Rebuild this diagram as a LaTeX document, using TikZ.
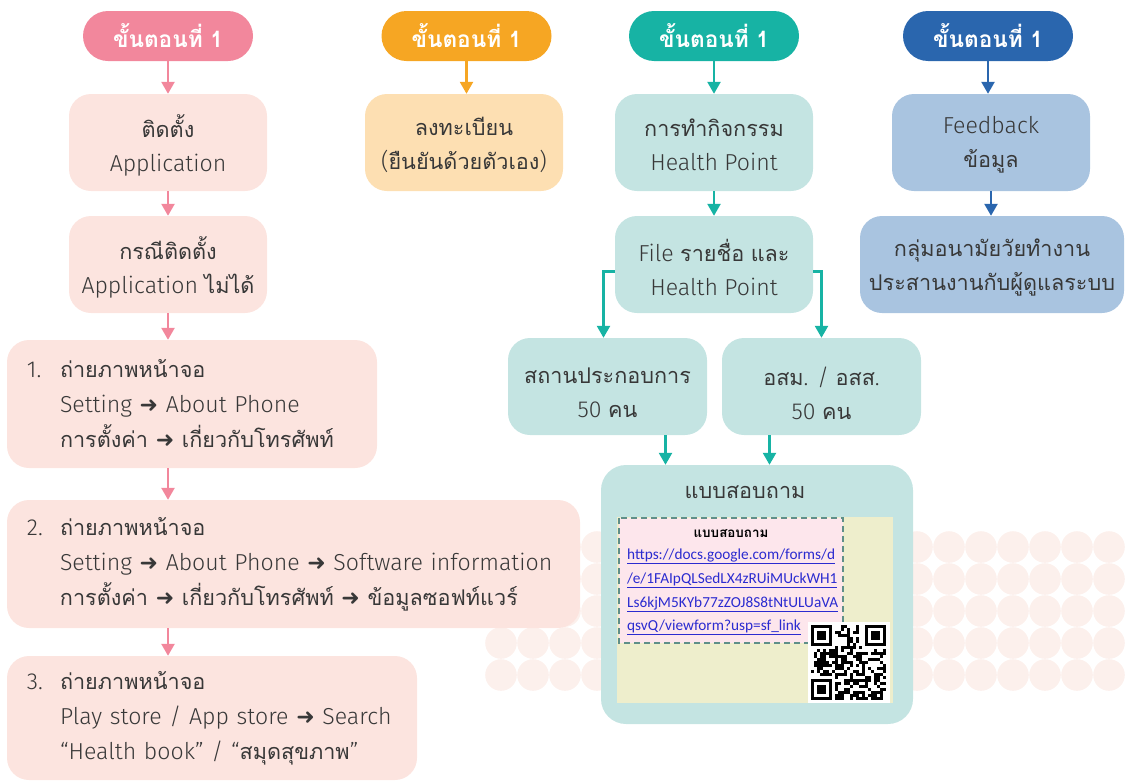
\documentclass[tikz,border=0pt]{standalone}
\usepackage{fontspec}
\IfFontExistsTF{Fira Sans Light}{\setmainfont{Fira Sans Light}[Scale=1.1]}{\setmainfont{Open Sans}}
\newfontfamily\thaifont{Loma}[Script=Thai,Scale=1.03]
\newfontfamily\dvfont{DejaVu Sans}
\newfontfamily\linkfont{Carlito}
\XeTeXinterchartokenstate=1
\newXeTeXintercharclass\thaicls
\newcount\tmpc
\tmpc="0E00
\loop\ifnum\tmpc<"0E80 \XeTeXcharclass\tmpc=\thaicls \advance\tmpc by 1 \repeat
\XeTeXinterchartoks 0 \thaicls = {\thaifont}
\XeTeXinterchartoks 4095 \thaicls = {\thaifont}
\XeTeXinterchartoks \thaicls 0 = {\rmfamily}
\XeTeXinterchartoks \thaicls 4095 = {\rmfamily}
\usetikzlibrary{arrows.meta}
\definecolor{txt}{HTML}{383838}
\definecolor{pinkH}{HTML}{F2879C}
\definecolor{pinkB}{HTML}{FCE4DF}
\definecolor{oraH}{HTML}{F6A623}
\definecolor{oraB}{HTML}{FDDFB2}
\definecolor{tealH}{HTML}{17B3A4}
\definecolor{tealB}{HTML}{C4E4E2}
\definecolor{bluH}{HTML}{2A66AE}
\definecolor{bluB}{HTML}{A9C4E0}
\definecolor{dots}{HTML}{FCF0EC}
\definecolor{yel}{HTML}{EEEECC}
\definecolor{pinkL}{HTML}{FDE6EC}
\definecolor{dashc}{HTML}{5F8F88}
\definecolor{linkc}{HTML}{2B2BD0}
\newcommand{\myarrow}{{\dvfont\fontsize{22pt}{35pt}\selectfont\char"279C}}
\newcommand{\hdrtext}{{\XeTeXinterchartokenstate=0\relax\thaifont\bfseries ขั้นตอนที่ 1}}
\tikzset{
  hdr/.style={rounded corners=25pt, minimum width=170pt, minimum height=50pt, inner sep=0pt, text=white, font={\fontsize{22pt}{26pt}\selectfont}},
  boxst/.style={rounded corners=22pt, minimum width=198pt, minimum height=97pt, inner sep=0pt},
  boxtxt/.style={inner sep=0pt, align=center, text=txt, font={\fontsize{21pt}{34pt}\selectfont}},
  lbox/.style={rounded corners=22pt, fill=pinkB, inner xsep=20pt, inner ysep=0pt, align=left, text=txt, font={\fontsize{21pt}{35pt}\selectfont}},
  ar/.style={line width=2.5pt, -{Triangle[width=13pt,length=12pt]}},
  linkst/.style={text=linkc, font={\linkfont\fontsize{15.3pt}{18pt}\selectfont}, anchor=west, inner sep=0pt}
}
% #1 name, #2 position, #3 extra style, #4 text shift, #5 text
\newcommand{\bx}[5]{\node[boxst,#3] (#1) at #2 {};
  \node[boxtxt] (#1t) at ([yshift=#4]#1.center) {#5};}
\begin{document}
\begin{tikzpicture}[x=1pt,y=-1pt]
\useasboundingbox (0,0) rectangle (1125,782);
% background dots
\foreach \c in {0,...,19}{\foreach \r in {0,...,4}{
  \fill[dots] (501+32*\c, 547+32*\r) circle (15.8);
}}
% headers
\node[hdr, fill=pinkH] (h1) at (168,36) {\hdrtext};
\node[hdr, fill=oraH]  (h2) at (466.5,36) {\hdrtext};
\node[hdr, fill=tealH] (h3) at (714,36) {\hdrtext};
\node[hdr, fill=bluH]  (h4) at (988,36) {\hdrtext};
% column 1
\bx{a1}{(168,142.5)}{fill=pinkB}{-2.5pt}{ติดตั้ง\\Application}
\bx{a2}{(168,264.5)}{fill=pinkB}{-2.5pt}{กรณีติดตั้ง\\Application ไม่ได้}
\node[lbox, text width=330pt, minimum height=128pt] (b1) at (192,404)
  {\makebox[33pt][l]{1.}ถ่ายภาพหน้าจอ\\
   \hspace*{33pt}Setting \myarrow{} About Phone\\
   \hspace*{33pt}การตั้งค่า \myarrow{} เกี่ยวกับโทรศัพท์};
\node[lbox, text width=533pt, minimum height=128pt] (b2) at (293.5,564)
  {\makebox[33pt][l]{2.}ถ่ายภาพหน้าจอ\\
   \hspace*{33pt}Setting \myarrow{} About Phone \myarrow{} Software information\\
   \hspace*{33pt}การตั้งค่า \myarrow{} เกี่ยวกับโทรศัพท์ \myarrow{} ข้อมูลซอฟท์แวร์};
\node[lbox, text width=370pt, minimum height=124pt] (b3) at (212,718)
  {\makebox[33pt][l]{3.}ถ่ายภาพหน้าจอ\\
   \hspace*{33pt}Play store / App store \myarrow{} Search\\
   \hspace*{33pt}“Health book” / “สมุดสุขภาพ”};
\draw[ar, pinkH] (h1) -- (a1);
\draw[ar, pinkH] (a1) -- (a2);
\draw[ar, pinkH] (a2.south) -- (a2.south |- b1.north);
\draw[ar, pinkH] (a2.south |- b1.south) -- (a2.south |- b2.north);
\draw[ar, pinkH] (a2.south |- b2.south) -- (a2.south |- b3.north);
% column 2
\bx{o1}{(464,142.5)}{fill=oraB}{-2.5pt}{ลงทะเบียน\\(ยืนยันด้วยตัวเอง)}
\draw[ar, oraH] (h2.south) -- (h2.south |- o1.north);
% column 3
\bx{t1}{(714,142.5)}{fill=tealB}{-2.5pt}{การทำกิจกรรม\\Health Point}
\bx{t2}{(714,264.5)}{fill=tealB}{-3pt}{File รายชื่อ และ\\Health Point}
\bx{s1}{(607.5,386.5)}{fill=tealB, minimum width=199pt}{-6.5pt}{สถานประกอบการ\\50 คน}
\bx{s2}{(821.5,386.5)}{fill=tealB, minimum width=199pt}{-6.5pt}{อสม. / อสส.\\50 คน}
\draw[ar, tealH] (h3) -- (t1);
\draw[ar, tealH] (t1) -- (t2);
\draw[ar, tealH] ([yshift=-7pt]t2.west) -| ([xshift=-4pt]s1.north);
\draw[ar, tealH] ([yshift=-7pt]t2.east) -| (s2.north);
\node[rounded corners=25pt, fill=tealB, minimum width=312pt, minimum height=259pt, inner sep=0pt] (big) at (757,594.5) {};
\draw[ar, tealH] ([xshift=58pt]s1.south) -- ([xshift=58pt]s1.south |- big.north);
\draw[ar, tealH] ([xshift=-52pt]s2.south) -- ([xshift=-52pt]s2.south |- big.north);
\node[text=txt, font={\fontsize{21pt}{26pt}\selectfont}, inner sep=0pt] (bt) at (745,492) {แบบสอบถาม};
\fill[yel] (617,517) rectangle (893,703);
\draw[fill=pinkL, draw=dashc, line width=1.5pt, dash pattern=on 6pt off 4pt] (619,518) rectangle (843,643);
\node[text=black, font={\fontsize{13pt}{15pt}\selectfont\bfseries}, inner sep=0pt] (qt) at (731,534) {แบบสอบถาม};
\node[linkst] (l1) at (627,556) {\underline{https://docs.google.com/forms/d}};
\node[linkst] (l2) at (627,580) {\underline{/e/1FAIpQLSedLX4zRUiMUckWH1}};
\node[linkst] (l3) at (627,604) {\underline{Ls6kjM5KYb77zZOJ8S8tNtULUaVA}};
\node[linkst] (l4) at (627,627) {\underline{qsvQ/viewform?usp=sf\_link}};
% QR code
\fill[white] (808,622) rectangle (890,703);
\pgfmathsetseed{4242}
\foreach \i in {0,...,24}{\foreach \j in {0,...,24}{
  \pgfmathtruncatemacro{\inf}{((\i<8) && (\j<8)) || ((\i>16) && (\j<8)) || ((\i<8) && (\j>16))}
  \pgfmathtruncatemacro{\on}{rnd>0.5}
  \ifnum\inf=0 \ifnum\on=1 \fill[black] (811+3*\i, 625+3*\j) rectangle ++(3,3); \fi\fi
}}
\foreach \px/\py in {811/625, 865/625, 811/679}{
  \fill[black] (\px,\py) rectangle ++(21,21);
  \fill[white] (\px+3,\py+3) rectangle ++(15,15);
  \fill[black] (\px+6,\py+6) rectangle ++(9,9);
}
% column 4
\bx{f1}{(991,142.5)}{fill=bluB}{-2.5pt}{Feedback\\ข้อมูล}
\bx{f2}{(992,264.5)}{fill=bluB, minimum width=264pt}{-3pt}{กลุ่มอนามัยวัยทำงาน\\ประสานงานกับผู้ดูแลระบบ}
\draw[ar, bluH] (h4.south) -- (h4.south |- f1.north);
\draw[ar, bluH] (f1.south) -- (f1.south |- f2.north);
\end{tikzpicture}
\end{document}
